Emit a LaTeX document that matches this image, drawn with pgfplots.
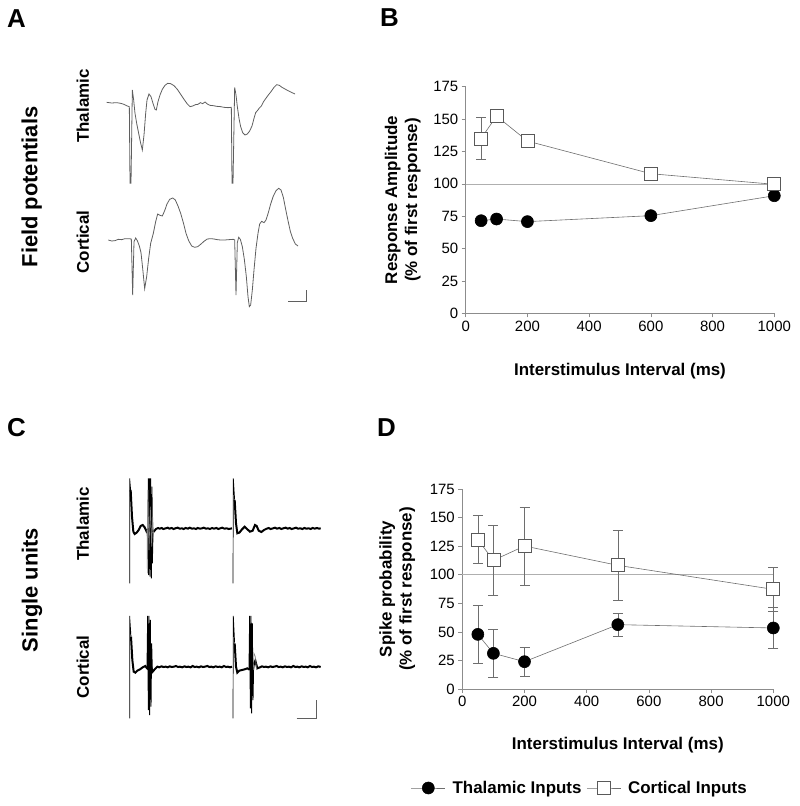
\documentclass[border=0pt]{standalone}
\usepackage{fontspec}
\setmainfont{Liberation Sans}
\setsansfont{Liberation Sans}
\usepackage{pgfplots}
\pgfplotsset{compat=1.18}

\definecolor{trace}{RGB}{95,95,95}
\definecolor{axgray}{RGB}{140,140,140}
\definecolor{lngray}{RGB}{110,110,110}
\definecolor{refgray}{RGB}{175,175,175}

\pgfplotsset{
  tracebox/.style={
    hide axis, scale only axis, clip=false,
    width=400bp, height=330bp,
    xmin=0, xmax=1200, ymin=0, ymax=990, y dir=reverse,
  },
  isiplot/.style={
    scale only axis, clip=false,
    xmin=0, xmax=1000, ymin=0, ymax=175,
    axis x line*=bottom, axis y line*=left,
    axis line style={axgray, line width=0.6bp, -},
    tick align=outside, major tick length=4bp,
    tick style={axgray, line width=0.6bp},
    xtick={0,200,...,1000}, ytick={0,25,...,175},
    /pgf/number format/assume math mode=true,
    /pgf/number format/1000 sep={},
    tick label style={font=\fontsize{15}{15}\selectfont},
    xlabel={Interstimulus Interval (ms)},
    error bars/error bar style={lngray, line width=0.6bp},
    error bars/error mark options={lngray, line width=0.6bp, rotate=90, mark size=5bp},
  },
  thal/.style={lngray, line width=0.6bp, mark=*, mark size=6bp,
    mark options={black, fill=black}},
  cort/.style={lngray, line width=0.6bp, mark=square*, mark size=6.5bp,
    mark options={draw=black!65, fill=white, line width=0.7bp}},
}

\begin{document}
\begin{tikzpicture}
\useasboundingbox (0,0) rectangle (800bp,806bp);

% panel letters and row labels
\begin{scope}[every node/.style={inner sep=0pt}]
\node[anchor=base west, font=\bfseries\fontsize{26}{26}\selectfont] at (7bp,778bp) {A};
\node[anchor=base west, font=\bfseries\fontsize{26}{26}\selectfont] at (380bp,779bp) {B};
\node[anchor=base west, font=\bfseries\fontsize{26}{26}\selectfont] at (7bp,369bp) {C};
\node[anchor=base west, font=\bfseries\fontsize{26}{26}\selectfont] at (377bp,369bp) {D};
\node[rotate=90, font=\bfseries\fontsize{22}{22}\selectfont] at (31.7bp,619bp) {Field potentials};
\node[rotate=90, font=\bfseries\fontsize{22}{22}\selectfont] at (32bp,216bp) {Single units};
\node[rotate=90, font=\bfseries\fontsize{17}{17}\selectfont] at (82.7bp,700bp) {Thalamic};
\node[rotate=90, font=\bfseries\fontsize{17}{17}\selectfont] at (82.7bp,564bp) {Cortical};
\node[rotate=90, font=\bfseries\fontsize{17}{17}\selectfont] at (82.7bp,282bp) {Thalamic};
\node[rotate=90, font=\bfseries\fontsize{17}{17}\selectfont] at (82.7bp,139bp) {Cortical};
\end{scope}

% ---------- A: field potential traces ----------
\begin{axis}[tracebox, at={(0bp,806bp)}, anchor=north west]
\addplot[trace, line width=0.8bp] coordinates {
 (320,307) (335,309) (350,308) (362,310) (372,313) (382,318) (388,320)
 (390,550) (393,550) (397,270) (401,300) (405,340) (410,370) (415,395) (421,425) (427,450)
 (432,405) (437,340) (441,300) (447,282) (453,290) (459,310) (465,328) (469,330)
 (474,305) (480,285) (487,268) (495,256) (503,250) (512,251) (522,257) (532,268)
 (542,283) (552,298) (562,312) (570,320) (578,318) (586,314) (594,313) (601,308)
 (608,311) (615,306) (622,312) (630,316) (640,317) (650,319) (662,320) (672,322)
 (684,323) (694,322)
 (696,550) (699,550) (704,262) (708,285) (712,320) (717,355) (722,380) (728,398)
 (735,405) (742,402) (749,393) (756,378) (762,355) (767,338) (773,331) (778,324)
 (784,318) (790,306) (797,296) (805,285) (813,275) (822,262) (830,254) (838,256)
 (846,262) (855,267) (864,272) (874,277) (885,282)
};
\addplot[trace, line width=0.8bp] coordinates {
 (325,720) (335,723) (345,722) (355,718) (365,719) (375,716) (385,716) (394,717)
 (398,885) (402,725) (407,714) (412,722) (418,738) (423,758) (428,805) (434,866)
 (440,830) (446,775) (452,730) (460,700) (467,665) (473,642) (480,646) (487,648)
 (494,632) (501,612) (509,598) (518,594) (526,600) (534,618) (542,640) (550,668)
 (558,700) (566,722) (575,738) (584,742) (593,740) (602,733) (612,724) (622,717)
 (632,716) (642,717) (652,719) (662,720) (674,720) (686,719) (700,718)
 (704,720) (708,885) (712,728) (716,712) (721,718) (727,740) (733,778) (739,830)
 (744,890) (748,920) (752,915) (757,870) (762,810) (768,745) (774,700) (779,672)
 (785,664) (792,668) (798,660) (805,638) (812,612) (820,588) (828,572) (836,565)
 (843,570) (850,592) (857,628) (864,662) (871,694) (878,715) (886,732) (894,738)
};
\addplot[trace, line width=0.8bp] coordinates {(865,905) (920,905) (920,870)};
\end{axis}

% ---------- C: single unit traces ----------
\begin{axis}[tracebox, at={(0bp,416bp)}, anchor=north west]
% thalamic
\addplot[black, line width=2bp] coordinates {
 (392,300) (396,380) (400,425) (404,432) (410,428) (416,420) (422,408) (428,405)
 (434,412) (440,425) (444,420) (450,428) (456,420) (462,424) (468,417) (474,414)
 (479,416) (485,414) (490,417) (497,415) (503,413) (508,416) (515,414) (521,417)
 (526,415) (533,413) (539,416) (546,415) (551,417) (557,414) (564,416) (569,413)
 (576,416) (582,415) (588,417) (593,414) (600,416) (606,415) (611,413) (618,416)
 (624,415) (630,417) (636,414) (642,416) (649,414) (655,417) (661,415) (667,413)
 (673,416) (680,415) (686,417) (696,415)
};
\addplot[black, line width=2bp] coordinates {
 (704,330) (708,400) (712,430) (718,428) (726,418) (734,410) (742,418) (750,425)
 (758,422) (765,405) (770,408) (776,422) (784,426) (792,420) (800,416) (806,414)
 (812,417) (819,415) (825,413) (831,416) (838,414) (844,417) (850,415) (857,413)
 (863,416) (869,414) (875,417) (882,415) (888,413) (894,416) (901,415) (907,417)
 (913,414) (919,416) (926,415) (932,417) (938,414) (944,416) (951,414) (957,416)
 (962,415)
};
\addplot[black, line width=0.7bp] coordinates {
 (389,580) (389,265) (392,300)};
\addplot[black, line width=0.7bp] coordinates {
 (699,580) (700,265) (704,330)};
\addplot[black, line width=0.9bp] coordinates {
 (444,420) (445,265) (446,555) (448,265) (450,560) (452,265) (454,565) (456,290)
 (457,520) (459,430)};
\addplot[gray, line width=0.6bp] coordinates {
 (441,420) (442,550) (444,300) (447,480) (451,350) (455,470) (458,380) (461,440)};
% cortical
\addplot[black, line width=2bp] coordinates {
 (393,740) (397,810) (401,845) (406,848) (412,842) (420,838) (428,832) (436,828)
 (441,835) (448,840) (454,832) (458,845) (464,838) (472,830) (478,832) (484,829)
 (490,831) (497,830) (503,832) (509,829) (515,831) (522,830) (528,828) (534,831)
 (540,830) (547,832) (553,829) (559,831) (565,830) (572,832) (578,828) (584,831)
 (590,830) (597,832) (603,829) (609,831) (615,830) (622,828) (628,831) (634,830)
 (640,832) (647,829) (653,831) (659,830) (665,832) (672,828) (678,831) (684,830)
 (690,832) (696,830)
};
\addplot[black, line width=2bp] coordinates {
 (704,760) (708,830) (712,848) (718,842) (726,840) (734,838) (742,835) (747,838)
 (752,834) (758,842) (762,820) (766,812) (772,835) (780,832) (786,829) (792,831)
 (798,830) (805,832) (811,829) (817,831) (823,830) (830,828) (836,831) (842,830)
 (848,832) (855,829) (861,831) (867,830) (873,832) (880,828) (886,831) (892,830)
 (898,832) (905,829) (911,831) (917,830) (923,832) (930,828) (936,831) (942,830)
 (948,832) (955,829) (962,831)
};
\addplot[black, line width=0.7bp] coordinates {
 (389,985) (389,678) (393,740)};
\addplot[black, line width=0.7bp] coordinates {
 (699,985) (700,678) (704,760)};
\addplot[black, line width=0.9bp] coordinates {
 (441,835) (443,678) (445,960) (447,678) (449,975) (451,690) (453,950) (455,760)
 (457,845)};
\addplot[black, line width=0.9bp] coordinates {
 (747,838) (749,678) (751,955) (753,678) (755,970) (757,700) (759,930) (761,820)};
\addplot[gray, line width=0.6bp] coordinates {
 (760,840) (762,790) (766,800) (770,840)};
\addplot[trace, line width=0.8bp] coordinates {(890,985) (948,985) (948,930)};
\end{axis}

% ---------- B: field potential amplitude ----------
\begin{axis}[isiplot, at={(465.7bp,492.7bp)}, anchor=south west,
  width=308.6bp, height=226.6bp,
  ylabel={Response Amplitude\\(\% of first response)},
  every axis y label/.style={at={(axis description cs:-0.204,0.5)}, rotate=90,
    anchor=center, align=center, font=\bfseries\fontsize{17}{20}\selectfont},
  every axis x label/.style={at={(axis description cs:0.5,-0.256)},
    anchor=center, font=\bfseries\fontsize{17}{20}\selectfont},
]
\addplot[refgray, line width=0.6bp] coordinates {(0,100) (1000,100)};
\addplot[thal] coordinates {
 (50,71.5) (100,72.8) (200,70.8) (600,75.4) (1000,90.8)};
\addplot[cort, error bars/.cd, y dir=both, y explicit] coordinates {
 (50,135.1) +- (0,16)
 (100,152.3) +- (0,5)
 (200,133.0) +- (0,4.5)
 (600,107.8) +- (0,4.5)
 (1000,99.6) +- (0,2)};
\end{axis}

% ---------- D: spike probability ----------
\begin{axis}[isiplot, at={(462.3bp,117bp)}, anchor=south west,
  width=311bp, height=200bp,
  ylabel={Spike probability\\(\% of first response)},
  every axis y label/.style={at={(axis description cs:-0.209,0.5)}, rotate=90,
    anchor=center, align=center, font=\bfseries\fontsize{17}{20}\selectfont},
  every axis x label/.style={at={(axis description cs:0.5,-0.28)},
    anchor=center, font=\bfseries\fontsize{17}{20}\selectfont},
  legend columns=2,
  legend style={draw=none, fill=none, at={(axis description cs:0.378,-0.495)},
    anchor=center, font=\bfseries\fontsize{17}{17}\selectfont,
    /tikz/every even column/.append style={column sep=3bp},
    /tikz/every odd column/.append style={column sep=5bp},
    inner sep=0pt},
  legend image code/.code={\draw[mark repeat=2, mark phase=2, #1]
    plot coordinates {(0bp,0bp) (17bp,0bp) (34bp,0bp)};},
]
\addplot[refgray, line width=0.6bp, forget plot] coordinates {(0,100) (1000,100)};
\addplot[thal, error bars/.cd, y dir=both, y explicit] coordinates {
 (50,47.8) +- (0,25.5)
 (100,31.2) +- (0,21)
 (200,23.9) +- (0,13)
 (500,56.3) +- (0,10)
 (1000,53.4) +- (0,18)};
\addlegendentry{Thalamic Inputs}
\addplot[cort, error bars/.cd, y dir=both, y explicit] coordinates {
 (50,130.7) +- (0,21)
 (100,112.6) +- (0,31)
 (200,125.1) +- (0,34)
 (500,108.2) +- (0,31)
 (1000,87.2) +- (0,19)};
\addlegendentry{Cortical Inputs}
\end{axis}
\end{tikzpicture}
\end{document}
